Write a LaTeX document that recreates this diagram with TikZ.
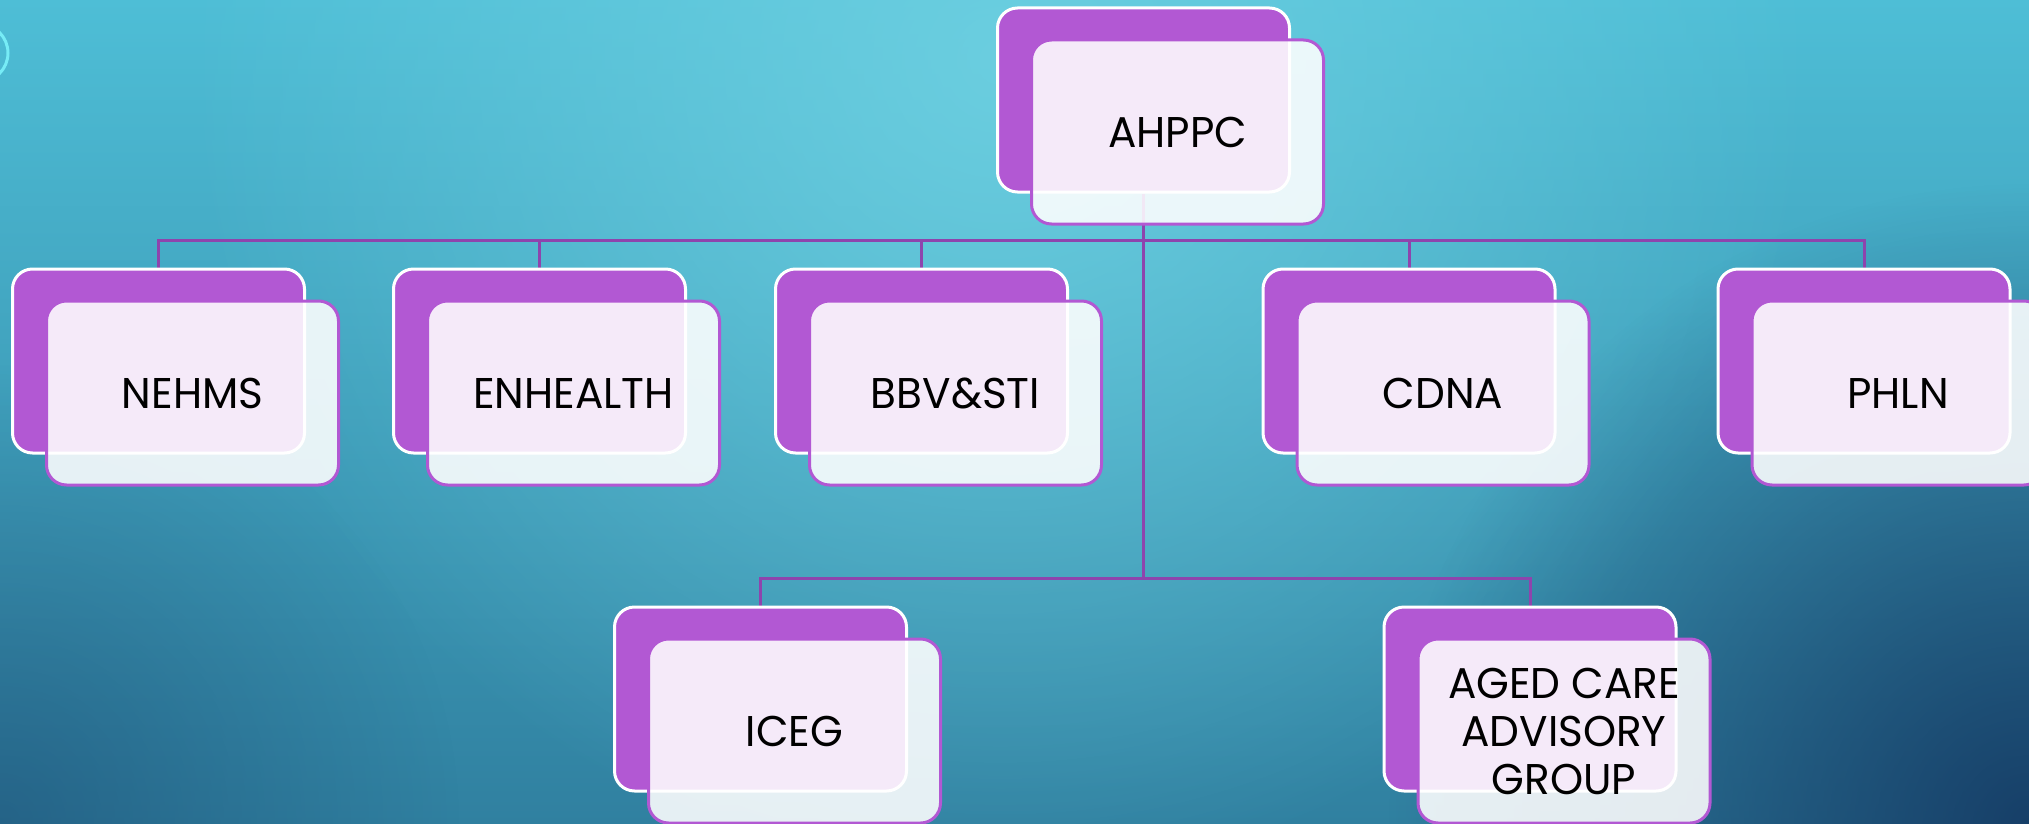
\documentclass[tikz,border=0pt]{standalone}
\usepackage{fontspec}
\setmainfont{Poppins}[FakeStretch=0.98]
\usetikzlibrary{positioning,fadings}
\pgfdeclarelayer{bg}
\pgfsetlayers{bg,main}
\definecolor{boxpurple}{RGB}{178,88,211}
\definecolor{linkpurple}{RGB}{142,68,173}
\definecolor{ringcyan}{RGB}{118,236,246}
\definecolor{bgtop}{RGB}{78,190,214}
\definecolor{bgmid}{RGB}{64,178,206}
\definecolor{bgbot}{RGB}{48,128,160}
\definecolor{bglight}{RGB}{110,208,225}
\definecolor{bgnavy}{RGB}{20,56,98}
\tikzfading[name=softspot, inner color=transparent!0, outer color=transparent!100]
\tikzset{font=\fontsize{21.5}{24}\selectfont}
\tikzset{backbox/.style={draw=white, fill=boxpurple, line width=1.5pt,
    rounded corners=10pt, minimum width=146pt, minimum height=92pt, inner sep=0pt}}
\tikzset{frontbox/.style={draw=boxpurple, fill=white, fill opacity=.88, text opacity=1,
    line width=1.5pt, rounded corners=10pt, minimum width=146pt, minimum height=92pt,
    inner sep=0pt, align=center}}
\tikzset{link/.style={draw=linkpurple, line width=1.5pt}}

\begin{document}
\begin{tikzpicture}[x=.5pt,y=-.5pt]
  \useasboundingbox (0,0) rectangle (2029,824);
  \clip (0,0) rectangle (2029,824);

  \node[backbox] (AH) at (1143.5,100) {};
  \node[backbox] (NE) at (158.5,361) {};
  \node[backbox] (EN) at (539.5,361) {};
  \node[backbox] (BB) at (921.5,361) {};
  \node[backbox] (CD) at (1409,361) {};
  \node[backbox] (PH) at (1864,361) {};
  \node[backbox] (IC) at (760.5,699) {};
  \node[backbox] (AG) at (1530,699) {};

  \node[frontbox] (AHf) at ([shift={(34,32)}]AH) {AHPPC};
  \node[frontbox] (NEf) at ([shift={(34,32)}]NE) {NEHMS};
  \node[frontbox] (ENf) at ([shift={(34,32)}]EN) {ENHEALTH};
  \node[frontbox] (BBf) at ([shift={(34,32)}]BB) {BBV\&STI};
  \node[frontbox] (CDf) at ([shift={(34,32)}]CD) {CDNA};
  \node[frontbox] (PHf) at ([shift={(34,32)}]PH) {PHLN};
  \node[frontbox] (ICf) at ([shift={(34,32)}]IC) {ICEG};
  \node[frontbox] (AGf) at ([shift={(34,32)}]AG) {AGED CARE\\ADVISORY\\GROUP};

  \coordinate (top) at (1143.5,240);
  \coordinate (bot) at (1143.5,578);

  \begin{pgfonlayer}{bg}
    \shade[top color=bgtop, middle color=bgmid, bottom color=bgbot]
      (0,0) rectangle (2029,824);
    % light spot at the top, dark corner at the bottom right
    \fill[bglight, path fading=softspot, fill opacity=.9] (1000,60) circle (820);
    \fill[bgnavy, path fading=softspot, fill opacity=.9] (2029,824) circle (640);
    \fill[bgnavy, path fading=softspot, fill opacity=.4] (0,824) circle (460);
    \draw[ringcyan, line width=1.5pt] (-21,53) circle (29);
    \draw[link] (AH.south) -- (bot);
    \draw[link] (NE.north) |- (top);
    \draw[link] (EN.north) |- (top);
    \draw[link] (BB.north) |- (top);
    \draw[link] (CD.north) |- (top);
    \draw[link] (PH.north) |- (top);
    \draw[link] (IC.north) |- (bot);
    \draw[link] (AG.north) |- (bot);
  \end{pgfonlayer}
\end{tikzpicture}
\end{document}
